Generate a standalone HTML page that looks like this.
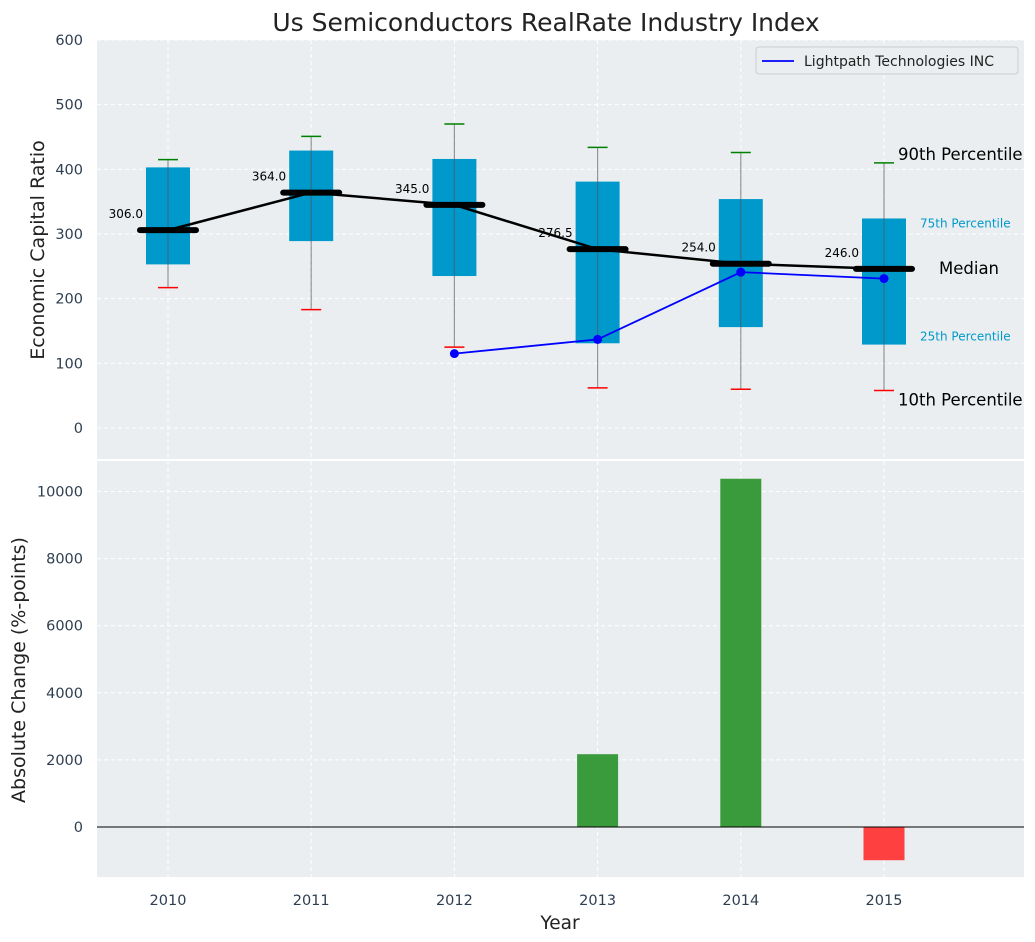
<!DOCTYPE html>
<html><head><meta charset="utf-8"><style>
body{margin:0;background:#fff}
svg{display:block;font-family:"DejaVu Sans","Liberation Sans",sans-serif}
</style></head><body>
<svg id="c" width="1035" height="942"></svg>
<script>
const years=['2010','2011','2012','2013','2014','2015'];
const p10=[217,183,125,62,60,58];
const q1=[253,289,235,131,156,129];
const med=[306,364,345,276.5,254,246];
const q3=[403,429,416,381,354,324];
const p90=[415,451,470,434,426,410];
const lpYears=[2,3,4,5];
const lpVals=[115,137,241,231];
const changes=[null,null,null,2170,10380,-990];
const topTicks=[0,100,200,300,400,500,600];
const botTicks=[0,2000,4000,6000,8000,10000];

const NS='http://www.w3.org/2000/svg';
const svg=document.getElementById('c');
function mk(t,a,p){const e=document.createElementNS(NS,t);for(const k in a)e.setAttribute(k,a[k]);(p||svg).appendChild(e);return e;}
const X0=97,X1=1024;
const xs=i=>168+i*143.2;
const yT=v=>428-v*0.6467;
const yB=v=>827-v*0.03355;

let e=mk('rect',{x:X0,y:40,width:X1-X0,height:419,fill:'#eaeef0'});

e=mk('rect',{x:X0,y:461,width:X1-X0,height:416,fill:'#eaeef0'});


years.forEach((y,i)=>{
 mk('line',{x1:xs(i),x2:xs(i),y1:40,y2:459,stroke:'#fff','stroke-dasharray':'4,3','stroke-width':1});
 mk('line',{x1:xs(i),x2:xs(i),y1:461,y2:877,stroke:'#fff','stroke-dasharray':'4,3','stroke-width':1});
 e=mk('text',{x:xs(i),y:905,'text-anchor':'middle','font-size':14.5,fill:'#2e3e50'});e.textContent=y;
 
});
topTicks.forEach(v=>{
 mk('line',{x1:X0,x2:X1,y1:yT(v),y2:yT(v),stroke:'#fff','stroke-dasharray':'4,3'});
 e=mk('text',{x:83,y:yT(v)+5,'text-anchor':'end','font-size':14.5,fill:'#2e3e50'});e.textContent=v;
 
});
botTicks.forEach(v=>{
 mk('line',{x1:X0,x2:X1,y1:yB(v),y2:yB(v),stroke:'#fff','stroke-dasharray':'4,3'});
 e=mk('text',{x:83,y:yB(v)+5,'text-anchor':'end','font-size':14.5,fill:'#2e3e50'});e.textContent=v;
 
});

years.forEach((y,i)=>{
 const x=xs(i);
 e=mk('rect',{x:x-22,y:yT(q3[i]),width:44,height:yT(q1[i])-yT(q3[i]),fill:'#0099cc'});
 
 mk('line',{x1:x,x2:x,y1:yT(p90[i]),y2:yT(p10[i]),stroke:'#555','stroke-opacity':0.6,'stroke-width':1.2});
 mk('line',{x1:x-10,x2:x+10,y1:yT(p90[i]),y2:yT(p90[i]),stroke:'green','stroke-width':1.5});
 mk('line',{x1:x-10,x2:x+10,y1:yT(p10[i]),y2:yT(p10[i]),stroke:'red','stroke-width':1.5});
});
let pts=years.map((y,i)=>xs(i)+','+yT(med[i])).join(' ');
e=mk('polyline',{points:pts,fill:'none',stroke:'#000','stroke-width':2.5});

years.forEach((y,i)=>{
 const x=xs(i);
 mk('line',{x1:x-28,x2:x+28,y1:yT(med[i]),y2:yT(med[i]),stroke:'#000','stroke-width':6,'stroke-linecap':'round'});
 e=mk('text',{x:x-25,y:yT(med[i])-12,'text-anchor':'end','font-size':12,fill:'#000'});e.textContent=med[i].toFixed(1);
 
});
e=mk('polyline',{points:lpYears.map((k,j)=>xs(k)+','+yT(lpVals[j])).join(' '),fill:'none',stroke:'blue','stroke-width':1.8});

lpYears.forEach((k,j)=>{e=mk('circle',{cx:xs(k),cy:yT(lpVals[j]),r:4.5,fill:'blue'});
 });

const L=5,lx=xs(L);
[['90th Percentile',p90[L],16.5,'#000',14,-3],['75th Percentile',q3[L],12,'#0099cc',36,9],['Median',med[L],16.5,'#000',55,5],['25th Percentile',q1[L],12,'#0099cc',36,-4],['10th Percentile',p10[L],16.5,'#000',14,15]].forEach(a=>{
 e=mk('text',{x:lx+a[4],y:yT(a[1])+a[5],'font-size':a[2],fill:a[3]});e.textContent=a[0];
 
});

e=mk('rect',{x:756,y:47,width:262,height:27,fill:'#eaeef0',stroke:'#ccc',rx:3});

mk('line',{x1:762,x2:794,y1:61,y2:61,stroke:'blue','stroke-width':1.8});
e=mk('text',{x:804,y:66,'font-size':14,fill:'#222'});e.textContent='Lightpath Technologies INC';


changes.forEach((v,i)=>{if(v==null)return;
 const y0=yB(Math.max(v,0)),y1=yB(Math.min(v,0));
 e=mk('rect',{x:xs(i)-20.5,y:y0,width:41,height:y1-y0,fill:v>=0?'#3a9b3d':'#ff4040'});
 
});
mk('line',{x1:X0,x2:X1,y1:yB(0),y2:yB(0),stroke:'#000','stroke-width':1});

e=mk('text',{x:546,y:31,'text-anchor':'middle','font-size':25,fill:'#222'});e.textContent='Us Semiconductors RealRate Industry Index';

e=mk('text',{x:44,y:250,'text-anchor':'middle','font-size':19,fill:'#222',transform:'rotate(-90 44 250)'});e.textContent='Economic Capital Ratio';

e=mk('text',{x:25,y:670,'text-anchor':'middle','font-size':19,fill:'#222',transform:'rotate(-90 25 670)'});e.textContent='Absolute Change (%-points)';

e=mk('text',{x:560,y:929,'text-anchor':'middle','font-size':18.5,fill:'#222'});e.textContent='Year';

</script>
</body></html>
